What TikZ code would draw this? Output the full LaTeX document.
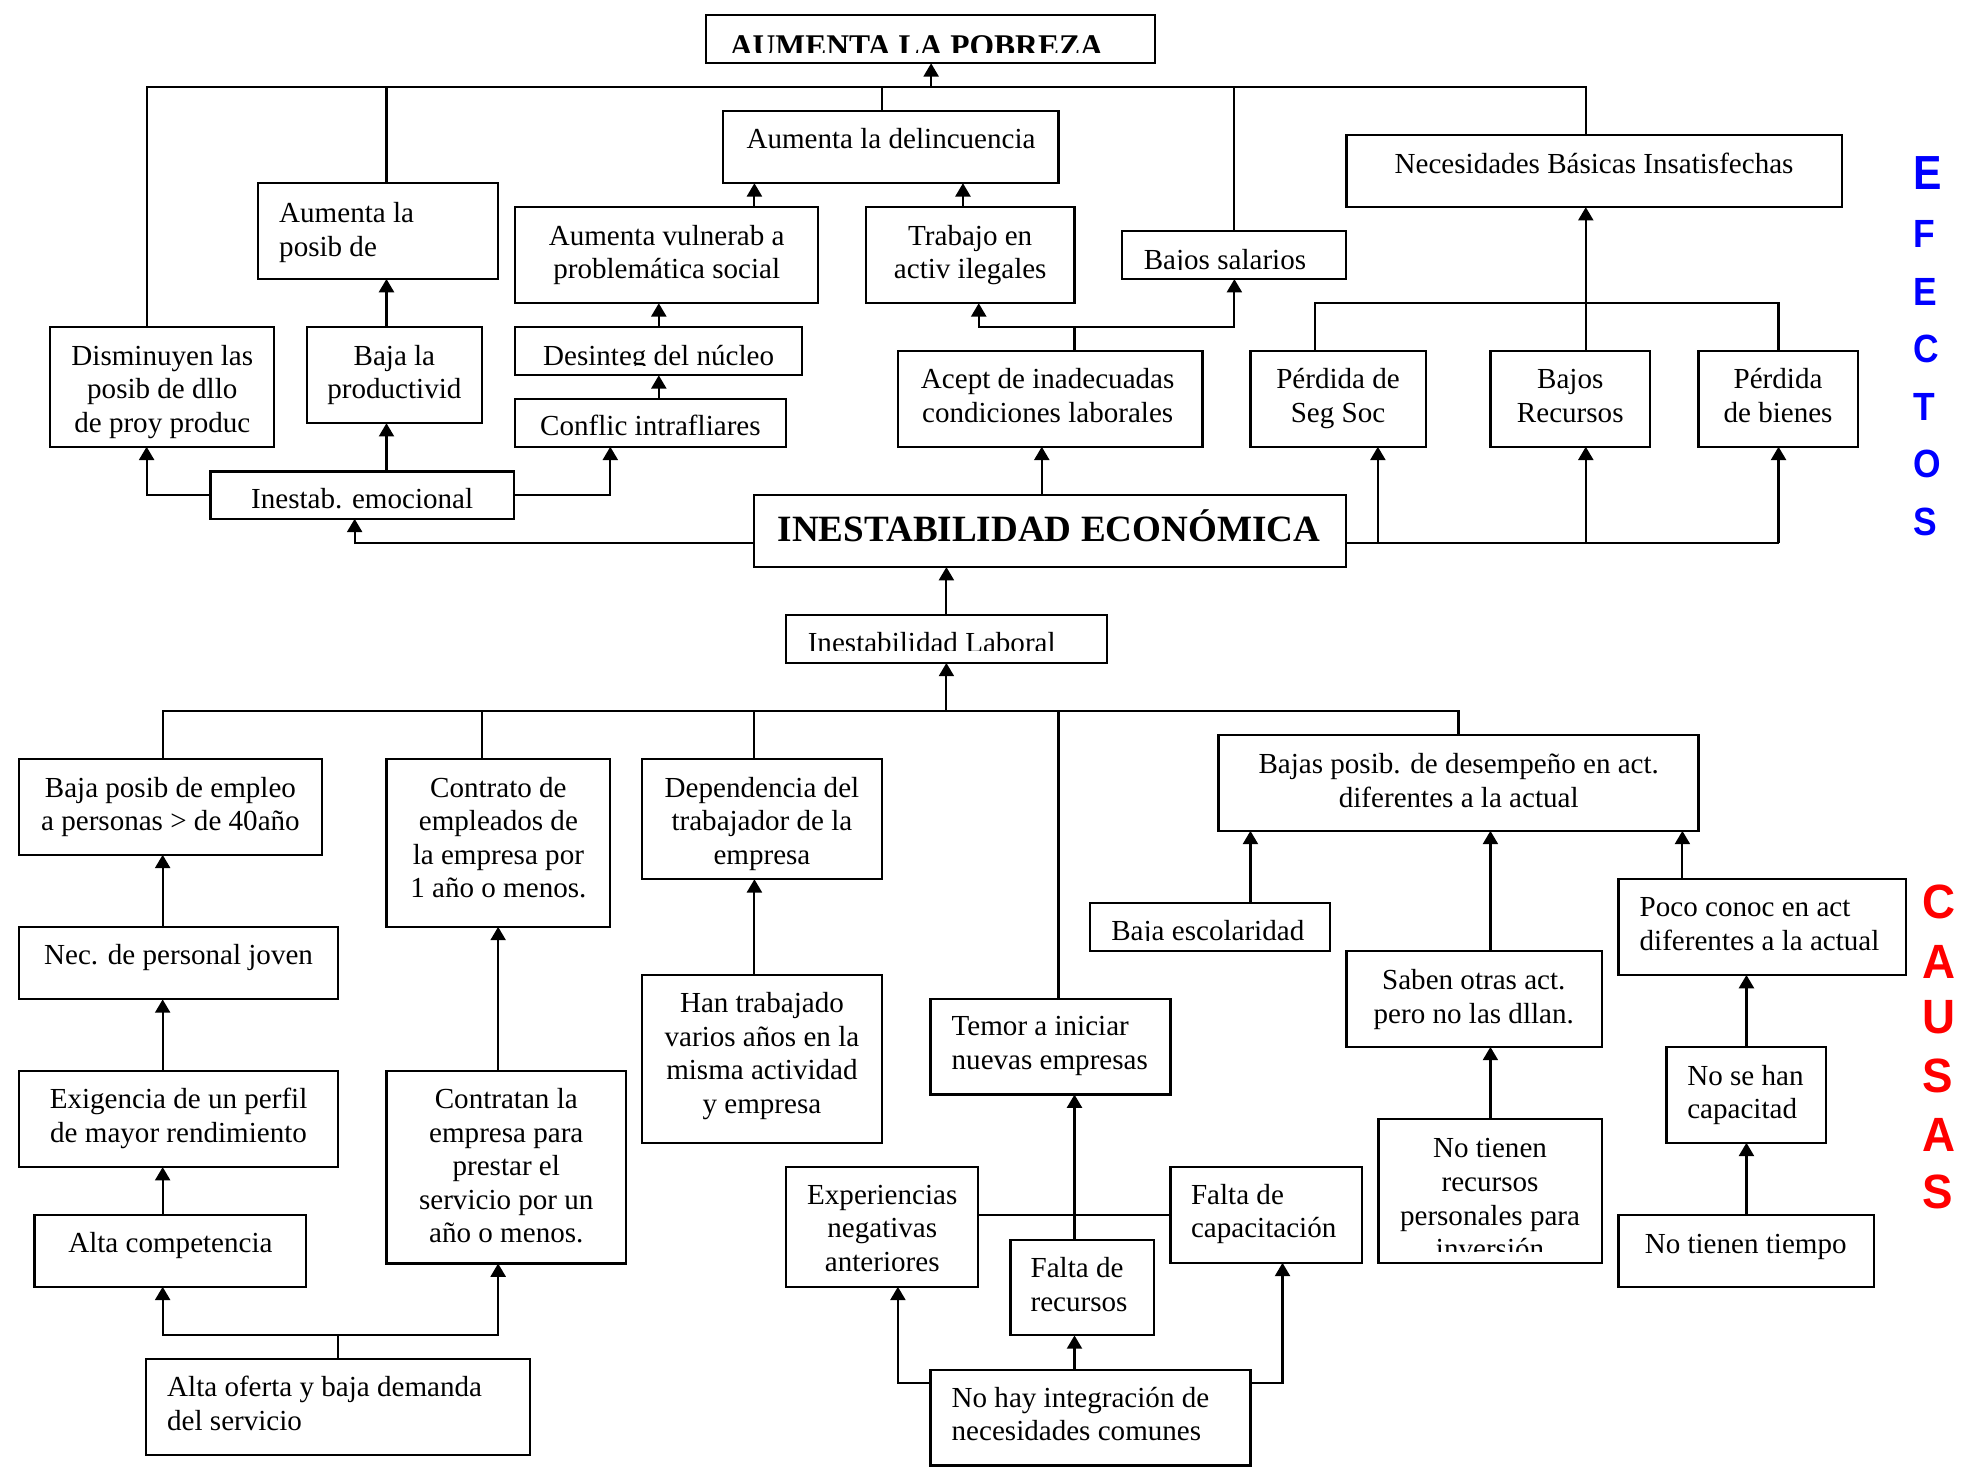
\documentclass[tikz,border=0pt]{standalone}
\usepackage{fontspec}
\setmainfont{Liberation Serif}
\newfontfamily\lsans{Liberation Sans}
\usepackage{graphicx}
\usetikzlibrary{arrows.meta}
\newcommand\bx[5]{\node[box,minimum width={(#4-#2)*0.5pt},minimum height={(#5-#3)*0.5pt}] (#1) at ({(#2+#4)/2},{(#3+#5)/2}) {};}
\newcommand\tc[4]{\node[txt,anchor=base] (#1) at (#2,#3) {\begin{tabular}[t]{@{}c@{}}#4\end{tabular}};}
\newcommand\tl[4]{\node[txt,anchor=base west] (#1) at (#2,#3) {\begin{tabular}[t]{@{}l@{}}#4\end{tabular}};}
\begin{document}
\begin{tikzpicture}[x=0.5pt,y=-0.5pt,
  box/.style={draw,line width=0.85pt,rectangle,inner sep=0pt,outer sep=0pt},
  txt/.style={inner sep=0pt,font=\fontsize{11.6}{13.4}\selectfont},
  ln/.style={line width=0.85pt},
  arr/.style={line width=0.85pt,-{Triangle[length=5.3pt,width=6pt]}},
  efx/.style={inner sep=0pt,text=blue,font=\lsans\bfseries\fontsize{15.7}{18}\selectfont},
  efxbig/.style={inner sep=0pt,text=blue,font=\lsans\bfseries\fontsize{19.1}{22}\selectfont},
  cax/.style={inner sep=0pt,text=red,font=\lsans\bfseries\fontsize{19.2}{22}\selectfont}]
\useasboundingbox (0,0) rectangle (1568,1173);
% ---------- boxes: effects ----------
\bx{pobreza}{563.4}{12}{921.4}{50.5}
\bx{delin}{576.6}{88.6}{844.6}{146.2}
\bx{posib}{206}{146.2}{397.5}{222.6}
\bx{vuln}{410.7}{165}{653}{242}
\bx{trab}{691}{165}{857.4}{242}
\bx{bsal}{895.5}{184.6}{1074.2}{222.7}
\bx{nbi}{1074.4}{107.7}{1469.7}{165.3}
\bx{dism}{40.2}{260.8}{218.8}{356.5}
\bx{baja}{244.8}{260.8}{384.7}{337.7}
\bx{desint}{410.7}{260.8}{640.2}{299.5}
\bx{conflic}{410.7}{318.6}{627}{356.5}
\bx{inestemo}{168}{376.2}{410.2}{414}
\bx{acept}{716.5}{280}{959.5}{356.5}
\bx{pss}{997.8}{280}{1137.7}{356.5}
\bx{brec}{1189.4}{280}{1316.5}{356.5}
\bx{pbien}{1355.3}{280}{1482.4}{356.5}
\bx{ie}{602}{395}{1074}{452.5}
% ---------- boxes: causes ----------
\bx{il}{627.5}{491}{883}{529}
\bx{bpe}{15.3}{605.7}{257}{682.1}
\bx{contrato}{308.4}{605.7}{487}{739.6}
\bx{dep}{512.5}{605.7}{703.8}{701.6}
\bx{nec}{15.3}{739.6}{269.7}{797.5}
\bx{exig}{15.3}{854.9}{269.7}{931.3}
\bx{altac}{27.5}{969.8}{244.3}{1026.8}
\bx{aob}{116.5}{1084.6}{422.9}{1161}
\bx{contratan}{308.4}{854.9}{499.7}{1008.2}
\bx{han}{512.5}{778}{703.8}{911.9}
\bx{exp}{627.5}{931.3}{780.7}{1026.8}
\bx{temor}{742.5}{797.5}{934}{873.4}
\bx{frec}{806.3}{989.2}{920.7}{1065.6}
\bx{fcap}{934}{931.3}{1086.7}{1007.7}
\bx{nohay}{742.5}{1093.4}{997.8}{1169.4}
\bx{bpos}{972.3}{586.7}{1355.3}{663}
\bx{baia}{870.1}{720.6}{1061.6}{759}
\bx{saben}{1074.4}{759}{1278.2}{835.4}
\bx{ntr}{1100}{893}{1278.4}{1008}
\bx{poco}{1291.5}{701.6}{1520.8}{778}
\bx{nsh}{1329.8}{835.4}{1457}{911.9}
\bx{ntt}{1291.5}{969.8}{1495.3}{1026.8}
% ---------- texts: effects ----------
\begin{scope}
\clip (563,12) rectangle (921,41.7);
\node[inner sep=0pt,anchor=base west,font=\bfseries\fontsize{12.6}{15}\selectfont] (tpob) at (582,44.9) {AUMENTA LA POBREZA};
\end{scope}
\tc{tdelin}{711}{118.2}{Aumenta la delincuencia}
\tl{tposib}{222.4}{177.5}{Aumenta la\\posib de}
\tc{tvuln}{532}{195.5}{Aumenta vulnerab a\\problemática social}
\tc{ttrab}{774.2}{195.5}{Trabajo en\\activ ilegales}
\begin{scope}
\clip (896,185) rectangle (1074,215.2);
\tl{tbsal}{912.3}{214.9}{Bajos salarios}
\end{scope}
\tc{tnbi}{1272}{138.2}{Necesidades Básicas Insatisfechas}
\tc{tdism}{129.5}{291.3}{Disminuyen las\\posib de dllo\\de proy produc}
\tc{tbaja}{314.7}{291.3}{Baja la\\productivid}
\begin{scope}
\clip (411,261) rectangle (640,291.8);
\tc{tdesint}{525.5}{291.3}{Desinteg del núcleo}
\end{scope}
\tc{tconflic}{519}{347.5}{Conflic intrafliares}
\tc{tinestemo}{289}{405.5}{Inestab. emocional}
\tc{tacept}{836}{310}{Acept de inadecuadas\\condiciones laborales}
\tc{tpss}{1067.7}{310}{Pérdida de\\Seg Soc}
\tc{tbrec}{1253}{310}{Bajos\\Recursos}
\tc{tpbien}{1418.8}{310}{Pérdida\\de bienes}
\node[inner sep=0pt,anchor=base,font=\bfseries\fontsize{14.8}{17}\selectfont] (tie) at (837,432.2) {INESTABILIDAD ECONÓMICA};
% ---------- texts: causes ----------
\begin{scope}
\clip (628,491) rectangle (883,519.2);
\tl{til}{644.2}{521}{Inestabilidad Laboral}
\end{scope}
\tc{tbpe}{136}{636}{Baja posib de empleo\\a personas > de 40año}
\tc{tcontrato}{397.7}{636}{Contrato de\\empleados de\\la empresa por\\1 año o menos.}
\tc{tdep}{608}{636}{Dependencia del\\trabajador de la\\empresa}
\tc{tnec}{142.5}{769.6}{Nec. de personal joven}
\tc{texig}{142.5}{884.5}{Exigencia de un perfil\\de mayor rendimiento}
\tc{taltac}{136}{999.4}{Alta competencia}
\tl{taob}{133}{1114.5}{Alta oferta y baja demanda\\del servicio}
\tc{tcontratan}{404}{884.5}{Contratan la\\empresa para\\prestar el\\servicio por un\\año o menos.}
\tc{than}{608}{808.1}{Han trabajado\\varios años en la\\misma actividad\\y empresa}
\tc{texp}{704}{960.9}{Experiencias\\negativas\\anteriores}
\tl{ttemor}{759}{826.6}{Temor a iniciar\\nuevas empresas}
\tl{tfrec}{822}{1019.7}{Falta de\\recursos}
\tl{tfcap}{950}{960.9}{Falta de\\capacitación}
\tl{tnohay}{759}{1123}{No hay integración de\\necesidades comunes}
\tc{tbpos}{1164}{617.3}{Bajas posib. de desempeño en act.\\diferentes a la actual}
\begin{scope}
\clip (871,721) rectangle (1061,750.5);
\tl{tbaia}{886.4}{750.2}{Baja escolaridad}
\end{scope}
\tc{tsaben}{1176}{789.6}{Saben otras act.\\pero no las dllan.}
\begin{scope}
\clip (1100,893) rectangle (1278,998.5);
\tc{tntr}{1189}{923.9}{No tienen\\recursos\\personales para\\inversión}
\end{scope}
\tl{tpoco}{1308}{731.7}{Poco conoc en act\\diferentes a la actual}
\tl{tnsh}{1346}{866}{No se han\\capacitad}
\tc{tntt}{1393}{1000.3}{No tienen tiempo}
% ---------- side labels ----------
\node[efxbig,anchor=base west] (e1) at (1526.8,151.1) {\scalebox{0.89}[1]{E}};
\node[efx,anchor=base west] (e2) at (1526.8,197.3) {\scalebox{0.9}[1]{F}};
\node[efx,anchor=base west] (e3) at (1526.8,243.7) {\scalebox{0.9}[1]{E}};
\node[efx,anchor=base west] (e4) at (1526.3,289.5) {\scalebox{0.9}[1]{C}};
\node[efx,anchor=base west] (e5) at (1526.3,335.7) {\scalebox{0.9}[1]{T}};
\node[efx,anchor=base west] (e6) at (1526.3,381) {\scalebox{0.9}[1]{O}};
\node[efx,anchor=base west] (e7) at (1526.8,427.5) {\scalebox{0.9}[1]{S}};
\node[cax,anchor=base west] (c1) at (1534,733) {\scalebox{0.95}[1]{C}};
\node[cax,anchor=base west] (c2) at (1534,780.4) {\scalebox{0.95}[1]{A}};
\node[cax,anchor=base west] (c3) at (1534,825) {\scalebox{0.95}[1]{U}};
\node[cax,anchor=base west] (c4) at (1534,871.5) {\scalebox{0.95}[1]{S}};
\node[cax,anchor=base west] (c5) at (1534,919.2) {\scalebox{0.95}[1]{A}};
\node[cax,anchor=base west] (c6) at (1534,964) {\scalebox{0.95}[1]{S}};
% ---------- connectors: effects ----------
\coordinate (bT) at (743,69.3);
\draw[ln] (117,0 |- dism.north) -- (117,69.3) -- (1265.4,69.3) -- (1265.4,0 |- nbi.north);
\draw[arr] (bT) -- (743,0 |- pobreza.south);
\draw[ln] (308.4,0 |- posib.north) -- (308.4,69.3);
\draw[ln] (704,0 |- delin.north) -- (704,69.3);
\draw[ln] (985,0 |- bsal.north) -- (985,69.3);
\draw[arr] (inestemo.west) -| (117,0 |- dism.south);
\draw[arr] (inestemo.east) -| (487,0 |- conflic.south);
\draw[arr] (308.4,0 |- inestemo.north) -- (308.4,0 |- baja.south);
\draw[arr] (525.7,0 |- conflic.north) -- (525.7,0 |- desint.south);
\draw[arr] (525.7,0 |- desint.north) -- (525.7,0 |- vuln.south);
\draw[arr] (602,0 |- vuln.north) -- (602,0 |- delin.south);
\draw[arr] (768.4,0 |- trab.north) -- (768.4,0 |- delin.south);
\draw[arr] (308.4,0 |- baja.north) -- (308.4,0 |- posib.south);
\draw[arr] (ie.west |- 0,433) -| (283,0 |- inestemo.south);
\draw[arr] (857.4,0 |- acept.north) |- (781,261) -- (781,0 |- trab.south);
\draw[arr] (857.4,261) -| (985,0 |- bsal.south);
\draw[arr] (831.3,0 |- ie.north) -- (831.3,0 |- acept.south);
\draw[ln] (ie.east |- 0,433) -- (1419.2,433);
\draw[arr] (1099.5,433) -- (1099.5,0 |- pss.south);
\draw[arr] (1265.4,433) -- (1265.4,0 |- brec.south);
\draw[arr] (1419.2,433) -- (1419.2,0 |- pbien.south);
\draw[ln] (1049,0 |- pss.north) |- (1419.2,242) -- (1419.2,0 |- pbien.north);
\draw[arr] (1265.4,0 |- brec.north) -- (1265.4,0 |- nbi.south);
% ---------- connectors: causes ----------
\draw[arr] (755.2,0 |- il.north) -- (755.2,0 |- ie.south);
\draw[ln] (129.8,0 |- bpe.north) |- (1163.8,567.3) -- (1163.8,0 |- bpos.north);
\draw[arr] (755.2,567.3) -- (755.2,0 |- il.south);
\draw[ln] (384.7,0 |- contrato.north) -- (384.7,567.3);
\draw[ln] (602,0 |- dep.north) -- (602,567.3);
\draw[ln] (844.6,0 |- temor.north) -- (844.6,567.3);
\draw[arr] (129.8,0 |- nec.north) -- (129.8,0 |- bpe.south);
\draw[arr] (129.8,0 |- exig.north) -- (129.8,0 |- nec.south);
\draw[arr] (129.8,0 |- altac.north) -- (129.8,0 |- exig.south);
\draw[ln] (269.7,0 |- aob.north) -- (269.7,1065.2);
\draw[arr] (269.7,1065.2) -| (129.8,0 |- altac.south);
\draw[arr] (269.7,1065.2) -| (397.5,0 |- contratan.south);
\draw[arr] (397.5,0 |- contratan.north) -- (397.5,0 |- contrato.south);
\draw[arr] (602,0 |- han.north) -- (602,0 |- dep.south);
\draw[ln] (exp.east |- 0,969.8) -- (fcap.west |- 0,969.8);
\draw[arr] (857.4,0 |- frec.north) -- (857.4,0 |- temor.south);
\draw[arr] (nohay.west |- 0,1103.6) -| (716.5,0 |- exp.south);
\draw[arr] (857.4,0 |- nohay.north) -- (857.4,0 |- frec.south);
\draw[arr] (nohay.east |- 0,1103.6) -| (1023.4,0 |- fcap.south);
\draw[arr] (997.8,0 |- baia.north) -- (997.8,0 |- bpos.south);
\draw[arr] (1189.3,0 |- saben.north) -- (1189.3,0 |- bpos.south);
\draw[arr] (1189.3,0 |- ntr.north) -- (1189.3,0 |- saben.south);
\draw[arr] (1342.5,0 |- poco.north) -- (1342.5,0 |- bpos.south);
\draw[arr] (1393.6,0 |- nsh.north) -- (1393.6,0 |- poco.south);
\draw[arr] (1393.6,0 |- ntt.north) -- (1393.6,0 |- nsh.south);
\end{tikzpicture}
\end{document}
